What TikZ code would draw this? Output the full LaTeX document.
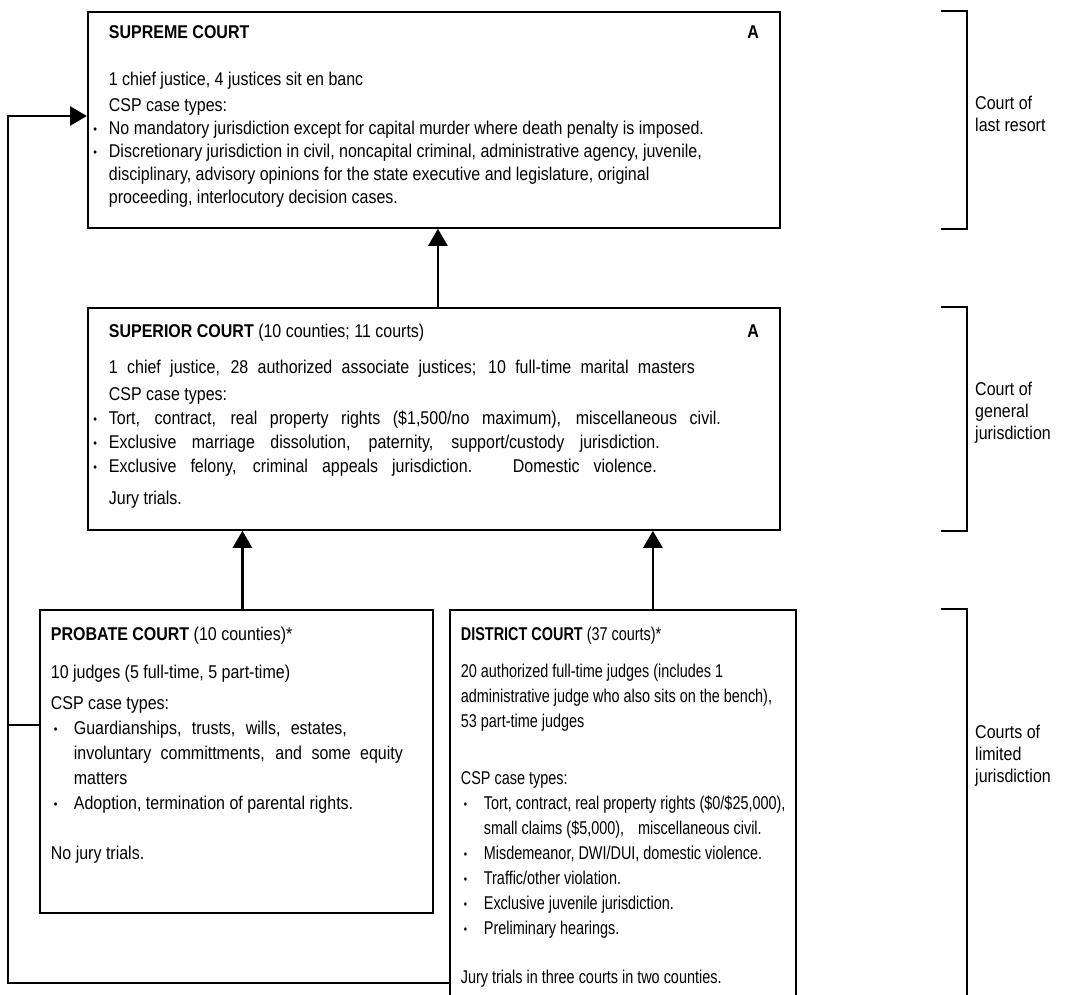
\documentclass[tikz,border=0pt]{standalone}
\usepackage{fontspec}
\setmainfont{Liberation Sans}[FakeStretch=0.865]
\newfontfamily\districtfont{Liberation Sans}[FakeStretch=0.78]
\usetikzlibrary{arrows.meta}

\newcommand{\bulletmark}{\raisebox{1.5pt}{\fontsize{12}{12}\selectfont\textbullet}}
\newcommand{\txtline}[1]{\par\noindent\mbox{#1}}
\newcommand{\upbul}[1]{\par\noindent\llap{\bulletmark\hspace{12pt}}\mbox{#1}}
\newcommand{\lowbul}[1]{\par\noindent\makebox[23pt][l]{\hspace{3pt}\bulletmark}\mbox{#1}}
\newcommand{\lowcont}[1]{\par\noindent\hspace*{23pt}\mbox{#1}}
\newcommand{\skipline}[1]{\par\vspace{#1pt}}
\newcommand{\spreadto}[2]{\makebox[#1pt][s]{#2}}
\newcommand{\courtpage}[4]{\begin{minipage}[t][#1pt][t]{#2pt}\fontsize{18.5}{#3pt}\selectfont\lineskiplimit=-100pt\raggedright #4\end{minipage}}

\begin{document}
\begin{tikzpicture}[x=1pt,y=-1pt,
	court/.style={draw,line width=1.8pt,inner xsep=21pt,inner ysep=0pt,anchor=north west},
	lowcourt/.style={court,inner xsep=11pt},
	link/.style={line width=2.6pt,-{Triangle[length=17pt,width=19pt]}},
	wire/.style={line width=2.6pt},
	brk/.style={line width=2.4pt},
	tier/.style={align=left,anchor=west,inner sep=0pt,font=\fontsize{18.5}{22}\selectfont}]
	\useasboundingbox (0,0) rectangle (1070,995);
	\clip (0,0) rectangle (1070,995);
	% courts
	\node[court](supreme) at (87,11){\courtpage{216}{650}{23}{%
		\txtline{\rule{0pt}{27pt}\makebox[\linewidth][l]{\textbf{SUPREME COURT}\hfill\textbf{A}}}
		\skipline{24}
		\txtline{1 chief justice, 4 justices sit en banc}
		\skipline{3}
		\txtline{CSP case types:}
		\upbul{No mandatory jurisdiction except for capital murder where death penalty is imposed.}
		\upbul{Discretionary jurisdiction in civil, noncapital criminal, administrative agency, juvenile,}
		\txtline{disciplinary, advisory opinions for the state executive and legislature, original}
		\txtline{proceeding, interlocutory decision cases.}}};
	\node[court](superior) at (87,307){\courtpage{222}{650}{24}{%
		\txtline{\rule{0pt}{30pt}\makebox[\linewidth][l]{\textbf{SUPERIOR COURT} (10 counties; 11 courts)\hfill\textbf{A}}}
		\skipline{12}
		\txtline{\spreadto{586}{1 chief justice, 28 authorized associate justices; 10 full-time marital masters}}
		\skipline{3}
		\txtline{CSP case types:}
		\upbul{\spreadto{612}{Tort, contract, real property rights (\$1,500/no maximum), miscellaneous civil.}}
		\upbul{\spreadto{551}{Exclusive marriage dissolution, paternity, support/custody jurisdiction.}}
		\upbul{\spreadto{548}{Exclusive felony, criminal appeals jurisdiction.\hspace{6pt} Domestic violence.}}
		\skipline{8}
		\txtline{Jury trials.}}};
	\node[lowcourt](probate) at (39,609){\courtpage{303}{371}{25}{%
		\txtline{\rule{0pt}{31pt}\textbf{PROBATE COURT} (10 counties)*}
		\skipline{13}
		\txtline{10 judges (5 full-time, 5 part-time)}
		\skipline{6}
		\txtline{CSP case types:}
		\lowbul{\spreadto{273}{Guardianships, trusts, wills, estates,}}
		\lowcont{\spreadto{329}{involuntary committments, and some equity}}
		\lowcont{matters}
		\lowbul{Adoption, termination of parental rights.}
		\skipline{25}
		\txtline{No jury trials.}}};
	\node[lowcourt](district) at (449,609){\courtpage{420}{324}{25}{\districtfont
		\txtline{\rule{0pt}{31pt}\textbf{DISTRICT COURT} (37 courts)*}
		\skipline{12}
		\txtline{20 authorized full-time judges (includes 1}
		\txtline{administrative judge who also sits on the bench),}
		\txtline{53 part-time judges}
		\skipline{32}
		\txtline{CSP case types:}
		\lowbul{Tort, contract, real property rights (\$0/\$25,000),}
		\lowcont{small claims (\$5,000),\hspace{10pt} miscellaneous civil.}
		\lowbul{Misdemeanor, DWI/DUI, domestic violence.}
		\lowbul{Traffic/other violation.}
		\lowbul{Exclusive juvenile jurisdiction.}
		\lowbul{Preliminary hearings.}
		\skipline{24}
		\txtline{Jury trials in three courts in two counties.}}};
	% appeals
	\draw[link]([xshift=4pt]superior.north)--([xshift=4pt]supreme.south);
	\draw[link]([xshift=6pt]probate.north)--([xshift=6pt]probate.north |- superior.south);
	\draw[link]([xshift=30pt]district.north)--([xshift=30pt]district.north |- superior.south);
	\coordinate (railtop) at (8,116);
	\coordinate (railbot) at (8,983);
	\coordinate (probtap) at (8,725);
	\draw[link](railbot -| district.west)--(railbot)--(railtop)--(railtop -| supreme.west);
	\draw[wire](probtap -| probate.west)--(probtap);
	% tiers
	\draw[brk]([xshift=160pt]supreme.north east)-|([xshift=186pt]supreme.south east)--([xshift=160pt]supreme.south east);
	\draw[brk]([xshift=160pt]superior.north east)-|([xshift=186pt]superior.south east)--([xshift=160pt]superior.south east);
	\draw[brk]([xshift=144pt]district.north east)-|([xshift=170pt]district.south east);
	\node[tier](lastresort) at (975,114){Court of\\last resort};
	\node[tier](general) at (975,413){Court of\\general\\jurisdiction};
	\node[tier](limited) at (975,756){Courts of\\limited\\jurisdiction};
\end{tikzpicture}
\end{document}
